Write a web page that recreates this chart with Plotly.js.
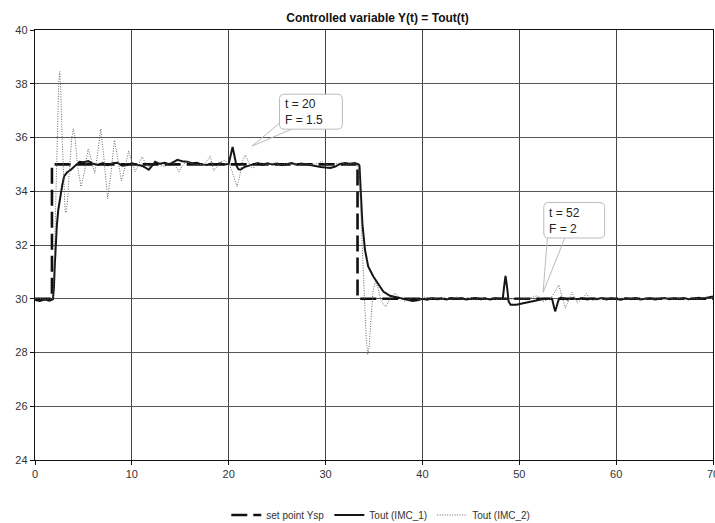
<!DOCTYPE html>
<html>
<head>
<meta charset="utf-8">
<script src="https://cdn.plot.ly/plotly-3.0.1.min.js"></script>
<style>html,body{margin:0;padding:0;background:#fff;}#chart{width:715px;height:523px;}</style>
</head>
<body>
<div id="chart"></div>
<script>
// ---- data ----
const setpointT = [0, 1.75, 1.75, 33.3, 33.3, 70];
const setpointY = [30, 30, 35, 35, 30, 30];

const imc1T = [0,0.5,1,1.5,1.85,1.95,2.05,2.15,2.25,2.4,2.6,2.8,3.0,3.3,3.7,4.2,4.6,5.0,5.5,6.0,6.5,7.0,7.5,8.0,8.5,9.0,9.5,10.0,10.5,11.0,11.4,11.75,12.1,12.4,12.9,13.4,13.9,14.3,14.7,15.2,15.7,16.2,16.7,17.2,17.75,18.2,18.7,19.1,19.6,20.0,20.2,20.4,20.6,20.8,21.0,21.2,21.6,22.0,22.5,23.0,23.5,24.0,24.5,25.0,25.5,26.0,26.5,27.0,27.5,28.0,28.5,29.0,29.5,30.0,30.5,31.0,31.5,32.0,32.5,33.0,33.4,33.5,33.6,33.8,34.07,34.4,34.93,35.34,35.96,36.65,37.7,38.5,39.0,39.5,40.0,40.5,41.0,41.5,42.0,42.5,43.0,43.5,44.0,44.5,45.0,45.5,46.0,46.5,47.0,47.5,48.0,48.3,48.45,48.58,48.75,48.9,49.1,49.7,50.4,51.1,52.1,52.6,53.0,53.4,53.55,53.7,53.85,54.05,54.3,54.6,55.0,55.5,56.0,56.5,57.0,57.5,58.0,58.5,59.0,59.5,60.0,60.5,61.0,61.5,62.0,62.5,63.0,63.5,64.0,64.5,65.0,65.5,66.0,66.5,67.0,67.5,68.0,68.5,69.0,69.5,70.0];
const imc1Y = [29.95,29.92,29.97,29.93,29.98,30.4,31.3,32.1,32.7,33.3,33.8,34.2,34.55,34.7,34.8,34.95,35.1,35.08,35.12,35.02,34.98,35.05,34.97,35.04,35.06,34.95,34.98,35.04,35.0,34.95,34.88,34.8,34.95,35.1,35.02,35.06,35.0,35.1,35.17,35.12,35.1,35.04,35.06,35.0,34.98,35.03,35.0,35.04,35.0,35.02,35.3,35.65,35.3,34.95,34.82,34.8,34.9,34.95,35.0,35.05,34.98,35.04,35.0,35.03,34.97,35.02,35.05,34.99,35.03,35.0,34.96,34.92,34.9,34.88,34.87,34.92,35.02,35.05,35.02,35.05,35.0,34.95,34.3,32.8,31.82,31.2,30.83,30.6,30.27,30.11,30.03,29.95,29.92,29.94,30.0,29.96,30.02,29.98,30.01,29.97,30.03,29.99,30.02,29.97,30.0,30.03,29.98,30.01,29.97,30.02,30.0,30.02,30.5,30.85,30.4,29.9,29.78,29.78,29.83,29.88,29.96,30.0,30.0,29.98,29.75,29.53,29.7,29.95,30.04,30.0,29.97,30.02,29.98,30.03,29.97,30.01,29.98,30.03,29.97,30.02,29.99,29.96,30.02,29.98,30.03,29.97,30.0,30.02,29.97,30.01,30.03,29.98,30.02,29.99,30.03,29.98,30.02,30.04,30.01,30.05,30.08];

const imc2T = [0,0.3,1.0,1.5,1.85,2.0,2.15,2.3,2.45,2.55,2.65,2.8,2.95,3.1,3.2,3.35,3.55,3.8,3.97,4.15,4.4,4.76,5.1,5.48,5.8,6.17,6.5,6.79,7.1,7.5,7.85,8.2,8.55,8.92,9.3,9.67,10.0,10.36,10.7,11.05,11.4,11.8,12.2,12.6,13.0,13.4,13.8,14.2,14.5,14.85,15.2,15.6,16.0,16.5,17.0,17.4,17.8,18.1,18.45,18.8,19.2,19.6,20.0,20.3,20.6,20.85,21.1,21.4,21.7,22.0,22.3,22.56,22.9,23.3,23.7,24.2,24.8,25.4,26.0,26.6,27.2,27.8,28.4,29.0,29.3,29.6,30.0,30.5,31.0,31.6,32.2,32.8,33.2,33.45,33.6,33.8,34.0,34.2,34.35,34.5,34.7,34.9,35.15,35.4,35.7,36.2,36.6,37.17,37.6,38.2,38.7,39.2,39.7,40.2,40.7,41.2,41.7,42.3,42.9,43.5,44.1,44.7,45.3,45.9,46.5,47.1,47.7,48.3,49.0,49.6,50.2,50.7,51.2,51.8,52.1,52.45,52.8,53.2,53.6,54.07,54.4,54.76,55.1,55.44,55.7,56.0,56.5,56.93,57.3,57.6,58.2,58.8,59.4,60.0,60.6,61.2,61.8,62.4,63.0,63.6,64.2,64.8,65.4,66.0,66.6,67.2,67.8,68.4,69.0,69.6,70.0];
const imc2Y = [30.0,30.02,29.98,30.0,30.0,31.5,34.0,36.5,38.1,38.45,37.8,36.0,34.2,33.3,33.2,33.6,34.8,36.0,36.32,35.9,34.9,34.17,34.7,35.57,35.2,34.67,35.5,36.32,35.3,33.72,34.7,35.9,35.2,34.39,34.9,35.5,35.1,34.73,35.0,35.28,35.05,34.9,35.05,35.12,34.95,34.92,35.05,35.1,34.95,34.72,34.95,35.1,35.05,34.98,35.0,34.95,35.15,35.3,34.75,34.9,35.1,35.15,35.0,34.8,34.4,34.17,34.5,35.1,35.35,35.15,34.9,34.86,35.05,35.08,34.98,35.02,35.05,34.97,35.03,35.0,34.96,35.04,34.98,35.02,35.05,35.12,35.0,34.95,35.02,35.05,35.0,35.04,35.0,34.8,33.5,31.8,29.8,28.5,27.92,28.2,29.3,30.3,30.65,30.4,29.95,29.7,29.95,30.21,30.05,29.9,30.0,30.05,29.95,30.06,29.97,30.04,29.95,30.05,29.96,30.06,29.97,30.05,29.96,30.04,29.97,30.03,29.98,30.0,30.0,29.97,30.0,30.02,30.03,30.11,30.05,29.9,29.95,30.0,30.2,30.52,30.1,29.65,29.95,30.24,30.05,29.84,30.0,30.19,30.0,29.93,30.05,29.97,30.04,29.98,30.03,29.97,30.02,29.98,30.03,29.97,30.02,29.98,30.03,29.98,30.02,29.97,30.03,29.99,30.04,30.06];

const legendNames = ["set point Ysp", "Tout (IMC_1)", "Tout (IMC_2)"];
const calloutText = ["t = 20<br>F = 1.5", "t = 52<br>F = 2"];
const xTitle = "time [min]";
const chartTitle = "Controlled variable Y(t) = Tout(t)";

// ---- chart ----
const fontFam = "Liberation Sans, Arial, sans-serif";
const traces = [
  {x: setpointT, y: setpointY, name: legendNames[0], mode: "lines",
   line: {color: "#111", width: 2.6, dash: "16px,6px"}},
  {x: imc1T, y: imc1Y, name: legendNames[1], mode: "lines",
   line: {color: "#151515", width: 2}},
  {x: imc2T, y: imc2Y, name: legendNames[2], mode: "lines",
   line: {color: "#666", width: 1, dash: "1px,1.5px"}}
];

function roundRect(x0, x1, y0, y1, rx, ry) {
  return `M ${x0+rx},${y1} L ${x1-rx},${y1} Q ${x1},${y1} ${x1},${y1-ry} L ${x1},${y0+ry} Q ${x1},${y0} ${x1-rx},${y0} L ${x0+rx},${y0} Q ${x0},${y0} ${x0},${y0+ry} L ${x0},${y1-ry} Q ${x0},${y1} ${x0+rx},${y1} Z`;
}
const rx = 0.5, ry = 0.19;
const shapes = [
  {type: "path", xref: "x", yref: "y", path: "M 25.3,36.55 L 22.4,35.68 L 26.5,36.31", line: {color: "#bbb", width: 1}, fillcolor: "rgba(0,0,0,0)"},
  {type: "path", xref: "x", yref: "y", path: roundRect(25.24, 31.73, 36.31, 37.61, rx, ry), line: {color: "#bbb", width: 1}, fillcolor: "#fff"},
  {type: "path", xref: "x", yref: "y", path: "M 52.9,32.26 L 52.46,30.24 L 54.7,32.26", line: {color: "#bbb", width: 1}, fillcolor: "rgba(0,0,0,0)"},
  {type: "path", xref: "x", yref: "y", path: roundRect(52.53, 58.81, 32.26, 33.58, rx, ry), line: {color: "#bbb", width: 1}, fillcolor: "#fff"}
];

const annotations = [
  {x: 25.6, y: 36.95, xref: "x", yref: "y", text: calloutText[0], showarrow: false,
   xanchor: "left", yanchor: "middle", align: "left", font: {family: fontFam, size: 12, color: "#222"}},
  {x: 52.85, y: 32.9, xref: "x", yref: "y", text: calloutText[1], showarrow: false,
   xanchor: "left", yanchor: "middle", align: "left", font: {family: fontFam, size: 12, color: "#222"}},
  {x: 0.4886, xref: "paper", y: 1 - 491/523, yref: "container", text: "<b>" + xTitle + "</b>", showarrow: false,
   xanchor: "center", yanchor: "middle", font: {family: fontFam, size: 11, color: "#111"}}
];

const layout = {
  width: 715, height: 523,
  margin: {l: 35, r: 2, t: 30, b: 63},
  paper_bgcolor: "#fff", plot_bgcolor: "#fff",
  font: {family: fontFam, size: 11, color: "#333"},
  title: {text: "<b>" + chartTitle + "</b>", font: {family: fontFam, size: 12, color: "#111"},
          x: 0.528, xref: "container", xanchor: "center", y: 1 - 18/523, yref: "container", yanchor: "middle"},
  xaxis: {range: [0, 70], dtick: 10, tick0: 0, showgrid: true, gridcolor: "#444", gridwidth: 1,
          zeroline: false, showline: true, linecolor: "#111", linewidth: 1.2, mirror: true,
          ticks: "outside", ticklen: 4, tickcolor: "#111", tickfont: {size: 11, color: "#333"},
          ticklabeloverflow: "allow", automargin: false},
  yaxis: {range: [24, 40], dtick: 2, tick0: 24, showgrid: true, gridcolor: "#555", gridwidth: 1,
          zeroline: false, showline: true, linecolor: "#111", linewidth: 1.2, mirror: true,
          ticks: "outside", ticklen: 4, tickcolor: "#111", tickfont: {size: 11, color: "#333"},
          automargin: false},
  showlegend: true,
  legend: {orientation: "h", x: 0.51, xanchor: "center", y: 1 - 515/523, yref: "container", yanchor: "middle",
           font: {size: 10, color: "#333"}, bgcolor: "rgba(0,0,0,0)"},
  shapes: shapes,
  annotations: annotations
};

Plotly.newPlot("chart", traces, layout, {displayModeBar: false, staticPlot: true});
</script>
</body>
</html>
